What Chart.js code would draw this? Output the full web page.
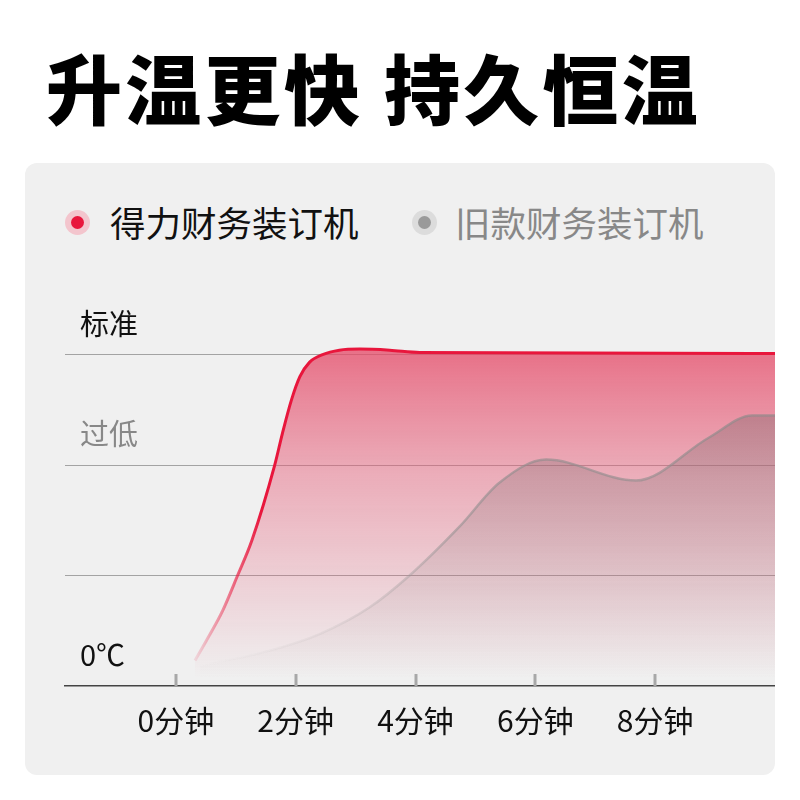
<!DOCTYPE html>
<html>
<head>
<meta charset="utf-8">
<title>升温更快 持久恒温</title>
<style>
  html, body {margin: 0; padding: 0; background: #fff;}
  body {width: 800px; height: 800px; position: relative; overflow: hidden;
        font-family: "Noto Sans CJK SC", "Noto Sans", sans-serif;}
  .title {position: absolute; left: 46px; top: 48px; font-size: 76px; line-height: 1;
          font-weight: 900; color: #000; white-space: nowrap; letter-spacing: 3.3px;}
  .card {position: absolute; left: 25px; top: 163px; width: 750px; height: 612px;
         background: #f0f0f0; border-radius: 12px;}
  .legend {position: absolute; top: 204px; font-size: 35.5px; line-height: 1; white-space: nowrap;}
  .dot {position: absolute; width: 25px; height: 25px; border-radius: 50%;}
  .dot i {position: absolute; left: 6px; top: 6px; width: 13px; height: 13px; border-radius: 50%;}
  #wrap {position: absolute; left: 25px; top: 267px; width: 750px; height: 492px;}
</style>
</head>
<body>
<div class="title">升温更快 持久恒温</div>
<div class="card"></div>

<div class="dot" style="left:65px; top:210px; background:#f3c5cd;"><i style="background:#e8163c;"></i></div>
<div class="legend" style="left:110px; color:#111;">得力财务装订机</div>
<div class="dot" style="left:412px; top:210px; background:#dcdcdc;"><i style="background:#9a9a9a;"></i></div>
<div class="legend" style="left:455px; color:#888;">旧款财务装订机</div>

<div id="wrap"><canvas id="myChart"></canvas></div>

<script src="https://cdn.jsdelivr.net/npm/chart.js@4.4.0/dist/chart.umd.min.js"></script>
<script>
// minutes / temperature level (0 = 0℃, 2 = 过低, 3 = 标准)
var newTime = [0.32, 0.53, 0.78, 1.03, 1.27, 1.65, 1.78, 1.93, 2.07, 2.23, 2.45, 2.73, 3.07, 3.57, 4.07, 10];
var newTemp = [0.23, 0.43, 0.68, 1.0, 1.32, 2.0, 2.29, 2.59, 2.8, 2.93, 3.0, 3.04, 3.05, 3.04, 3.02, 3.01];
var oldTime = [0.4, 1.57, 2.4, 3.23, 3.9, 4.73, 5.4, 6.18, 7.68, 8.9, 9.62, 10];
var oldTemp = [0.18, 0.32, 0.47, 0.71, 1.0, 1.44, 1.84, 2.05, 1.86, 2.25, 2.45, 2.45];

var xTicks = [0, 2, 4, 6, 8];
var yTicks = [0, 1, 2, 3];
var yLabels = ['0℃', '', '过低', '标准'];
var yLabelColors = ['#111', '#111', '#888', '#111'];

function points(xs, ys) {
  var out = [];
  for (var i = 0; i < xs.length; i++) out.push({x: xs[i], y: ys[i]});
  return out;
}

function vGrad(chart, stops) {
  var area = chart.chartArea;
  if (!area) return stops[0][1];
  var g = chart.ctx.createLinearGradient(0, area.top, 0, area.bottom);
  stops.forEach(function (s) { g.addColorStop(s[0], s[1]); });
  return g;
}

// short tick marks standing up from the bottom axis
var innerTicks = {
  id: 'innerTicks',
  afterDatasetsDraw: function (chart) {
    var ctx = chart.ctx, xs = chart.scales.x, bottom = chart.chartArea.bottom;
    ctx.save();
    ctx.strokeStyle = '#a8a8a8';
    ctx.lineWidth = 3;
    xTicks.forEach(function (v) {
      var px = Math.round(xs.getPixelForValue(v));
      ctx.beginPath();
      ctx.moveTo(px, bottom - 12);
      ctx.lineTo(px, bottom);
      ctx.stroke();
    });
    ctx.restore();
  }
};

var ctx = document.getElementById('myChart').getContext('2d');
var chart = new Chart(ctx, {
  type: 'line',
  data: {
    datasets: [{
      label: '得力财务装订机',
      data: points(newTime, newTemp),
      borderWidth: 3,
      borderColor: function (c) {
        return vGrad(c.chart, [[0, '#e8163c'], [0.55, '#e8163c'], [0.85, 'rgba(232,22,60,0.35)'], [0.97, 'rgba(232,22,60,0)']]);
      },
      backgroundColor: function (c) {
        return vGrad(c.chart, [[0.1, 'rgba(229,72,102,0.8)'], [0.45, 'rgba(229,90,118,0.45)'], [0.98, 'rgba(229,90,118,0)']]);
      },
      fill: 'origin',
      pointRadius: 0,
      cubicInterpolationMode: 'monotone',
      order: 2
    }, {
      label: '旧款财务装订机',
      data: points(oldTime, oldTemp),
      borderWidth: 2.5,
      borderColor: function (c) {
        return vGrad(c.chart, [[0, 'rgba(140,128,130,0.8)'], [0.6, 'rgba(150,145,146,0.6)'], [0.95, 'rgba(170,170,170,0)']]);
      },
      backgroundColor: function (c) {
        return vGrad(c.chart, [[0.2, 'rgba(115,95,100,0.42)'], [0.6, 'rgba(130,112,116,0.2)'], [0.98, 'rgba(150,140,142,0)']]);
      },
      fill: 'origin',
      pointRadius: 0,
      cubicInterpolationMode: 'monotone',
      order: 1
    }]
  },
  options: {
    responsive: true,
    maintainAspectRatio: false,
    animation: false,
    layout: {padding: {left: 10, right: 0, top: 8, bottom: 3}},
    plugins: {legend: {display: false}, tooltip: {enabled: false}},
    scales: {
      x: {
        type: 'linear',
        min: -1.85,
        max: 10,
        afterBuildTicks: function (s) { s.ticks = xTicks.map(function (v) { return {value: v}; }); },
        grid: {display: false, drawTicks: false},
        border: {display: true, color: '#444', width: 1.5},
        ticks: {
          padding: 17,
          color: '#111',
          font: {family: '"Noto Sans CJK SC"', size: 30},
          callback: function (v) { return v + '分钟'; }
        }
      },
      y: {
        min: 0,
        max: 3.5,
        afterBuildTicks: function (s) { s.ticks = yTicks.map(function (v) { return {value: v}; }); },
        grid: {
          drawTicks: false,
          lineWidth: 1,
          color: function (c) { return c.tick && c.tick.value === 0 ? 'rgba(0,0,0,0)' : '#a3a3a3'; }
        },
        border: {display: false},
        ticks: {
          mirror: true,
          padding: 15,
          labelOffset: -31,
          font: {family: '"Noto Sans CJK SC"', size: 29},
          color: function (c) { return yLabelColors[yTicks.indexOf(c.tick.value)]; },
          callback: function (v) { return yLabels[yTicks.indexOf(v)]; }
        }
      }
    }
  },
  plugins: [innerTicks]
});
</script>
</body>
</html>
